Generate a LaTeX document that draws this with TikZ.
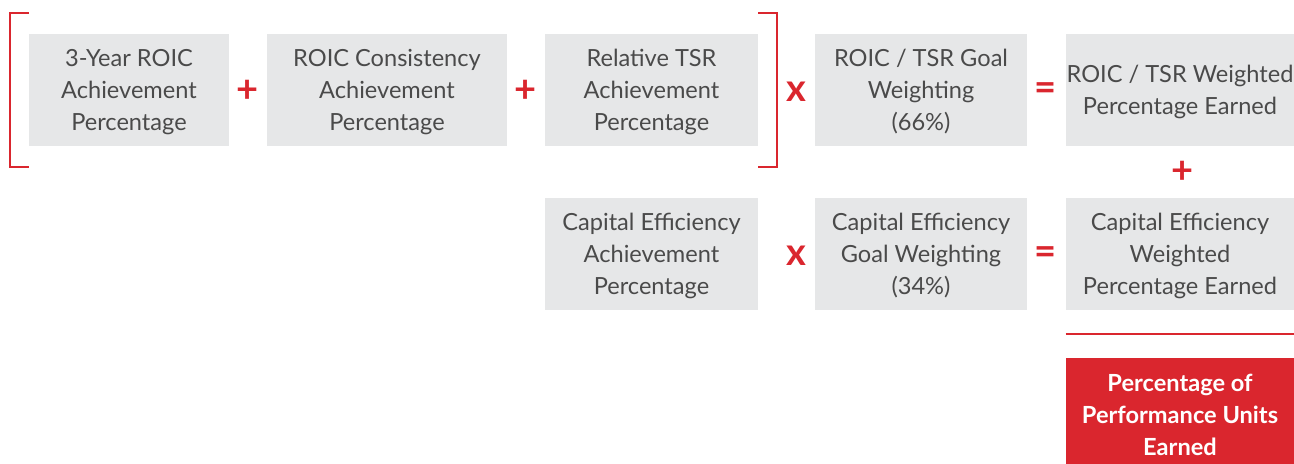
\documentclass[tikz,border=0pt]{standalone}
\usepackage{fontspec}
\setmainfont{Lato}
\usepackage{tikz}
\usetikzlibrary{calc,positioning}
\definecolor{boxgray}{HTML}{E6E7E8}
\definecolor{txtgray}{HTML}{4A4A4A}
\definecolor{accred}{HTML}{DA262E}

\begin{document}
\begin{tikzpicture}[x=0.5pt,y=-0.5pt,
    box/.style={fill=boxgray, text=txtgray, align=center, inner sep=0pt,
        minimum height=56pt, text depth=0pt, font=\fontsize{11.8}{16}\selectfont},
    result/.style={fill=accred, text=white, align=center, inner sep=0pt,
        minimum width=114pt, minimum height=53pt, text height=44.5pt, text depth=0pt,
        font=\fontsize{11.8}{16}\selectfont\bfseries},
    op/.style={text=accred, inner sep=0pt, font=\fontsize{19}{19}\selectfont\bfseries},
    brk/.style={draw=accred, line width=1.3pt}]
        \useasboundingbox (0,0) rectangle (1294,464);
        % top row
        \node[box, minimum width=100pt] (roic) at (129,90) {3-Year ROIC\\Achievement\\Percentage};
        \node[box, minimum width=120pt] (cons) at (387,90) {ROIC Consistency\\Achievement\\Percentage};
        \node[box, minimum width=106.5pt] (tsr) at (651.5,90) {Relative TSR\\Achievement\\Percentage};
        \node[box, minimum width=106pt] (goalA) at (921,90) {ROIC / TSR Goal\\Weighting\\(66\%)};
        \node[box, minimum width=114pt] (earnA) at (1180,90) {ROIC / TSR Weighted\\Percentage Earned};
        % bottom row
        \node[box, minimum width=106.5pt] (capach) at (651.5,254) {Capital Efficiency\\Achievement\\Percentage};
        \node[box, minimum width=106pt] (goalB) at (921,254) {Capital Efficiency\\Goal Weighting\\(34\%)};
        \node[box, minimum width=114pt] (earnB) at (1180,254) {Capital Efficiency\\Weighted\\Percentage Earned};
        \node[result] (total) at (1180,411) {Percentage of\\Performance Units\\Earned};
        % operators
        \node[op] (p1) at (248,91) {+};
        \node[op] (p2) at (526,91) {+};
        \node[op] (x1) at (796,92) {x};
        \node[op] (e1) at (1046,92) {=};
        \node[op] (x2) at (796,256) {x};
        \node[op] (e2) at (1046,256) {=};
        \node[op] (p3) at (1183,172) {+};
        % brackets
        \draw[brk] (29,13) -- (10,13) -- (10,167) -- (29,167);
        \draw[brk] (758,13) -- (777,13) -- (777,167) -- (758,167);
        % rule above total
        \draw[accred, line width=1.4pt] (earnB.south west |- 0,334) -- (earnB.south east |- 0,334);
    \end{tikzpicture}
\end{document}
